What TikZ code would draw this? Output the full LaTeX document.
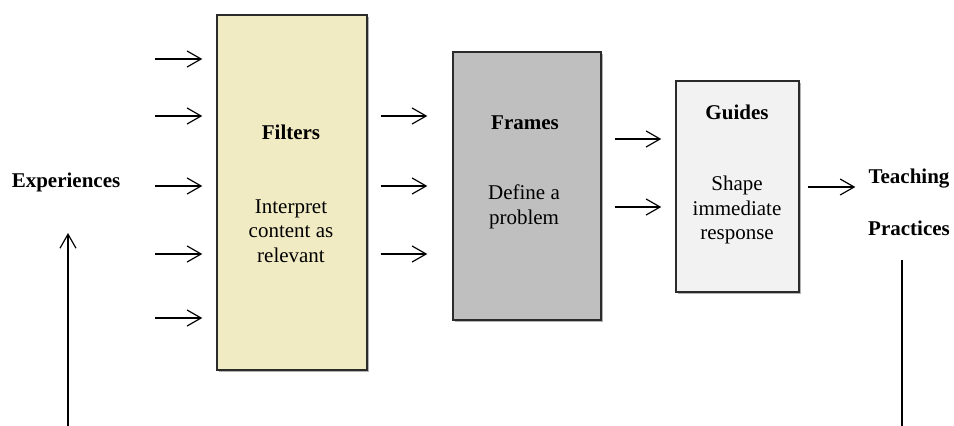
\documentclass[tikz,border=0pt]{standalone}
\usepackage{fontspec}
\setmainfont{Liberation Serif}
\usetikzlibrary{arrows.meta,shadows}
\definecolor{filtfill}{HTML}{F1EBC3}
\definecolor{frmfill}{HTML}{BFBFBF}
\definecolor{guidefill}{HTML}{F2F2F2}
\definecolor{edge}{HTML}{2B2B2B}
\begin{document}
\begin{tikzpicture}[x=1pt,y=-1pt,
  every node/.style={font=\fontsize{21}{24.5}\selectfont, inner sep=0pt},
  box/.style={draw=edge, line width=1.4pt, anchor=center,
    drop shadow={shadow xshift=1.5pt, shadow yshift=-2pt, fill=black, opacity=0.3}},
  title/.style={font=\fontsize{21}{24.5}\selectfont\bfseries},
  body/.style={align=center, font=\fontsize{21}{24.5}\selectfont},
  arr/.style={-{Straight Barb[length=14pt,width=16pt,line width=1.2pt]}, line width=1.2pt}]
\useasboundingbox (0,0) rectangle (954,426);
% boxes
\node[box, fill=filtfill, minimum width=150pt, minimum height=355pt] (filt) at (292,192.5) {};
\node[box, fill=frmfill, minimum width=148pt, minimum height=268pt] (frm) at (527,186) {};
\node[box, fill=guidefill, minimum width=123pt, minimum height=211pt] (gui) at (737.5,186.5) {};
% texts
\node[title] (filtT) at (291,132) {Filters};
\node[body] (filtB) at (291,231) {Interpret\\content as\\relevant};
\node[title] (frmT) at (525,123) {Frames};
\node[body] (frmB) at (524,207) {Define a\\problem};
\node[title] (guiT) at (737,112) {Guides};
\node[body] (guiB) at (737,210) {Shape\\immediate\\response};
\node[title] (exp) at (66,182) {Experiences};
\node[title] (teach) at (909,179) {Teaching};
\node[title] (prac) at (909,228) {Practices};
% free ends
\coordinate (i1) at (155,59);
\coordinate (i2) at (155,116);
\coordinate (i3) at (155,186);
\coordinate (i4) at (155,254);
\coordinate (i5) at (155,318);
\foreach \c in {i1,i2,i3,i4,i5}
  \draw[arr] (\c) -- ([xshift=-14pt]filt.west |- \c);
% filters -> frames
\foreach \yy in {116,186,254}
  \draw[arr] ([xshift=13pt]filt.east |- 0,\yy) -- ([xshift=-25pt]frm.west |- 0,\yy);
% frames -> guides
\foreach \yy in {139,207}
  \draw[arr] ([xshift=13pt]frm.east |- 0,\yy) -- ([xshift=-14pt]gui.west |- 0,\yy);
% guides -> teaching
\draw[arr] ([xshift=8pt]gui.east |- 0,187) -- ([xshift=-13pt]teach.west |- 0,187);
% feedback lines
\coordinate (b1) at (68,426);
\coordinate (b2) at (902,426);
\coordinate (t2) at (902,260);
\draw[arr] (b1) -- (68,233);
\draw[line width=1.2pt] (t2) -- (b2);
\end{tikzpicture}
\end{document}
